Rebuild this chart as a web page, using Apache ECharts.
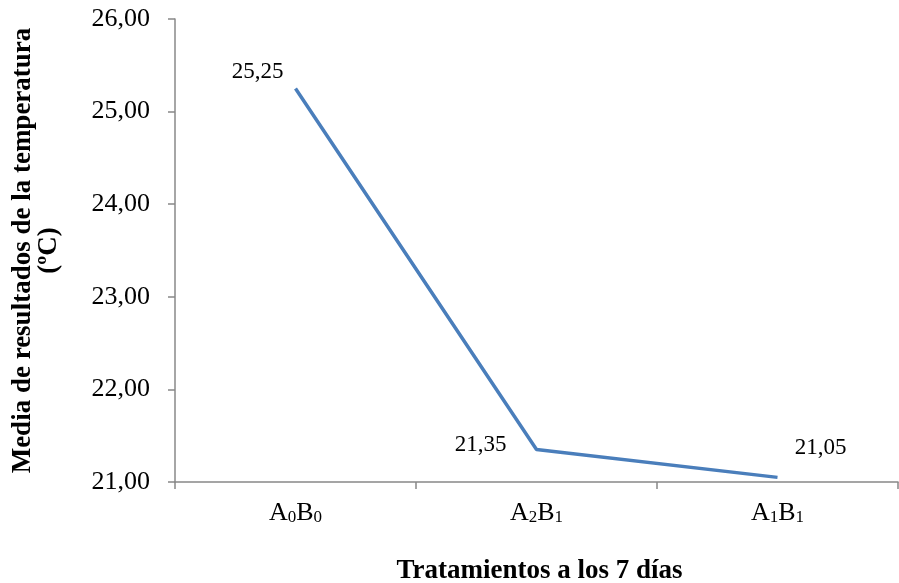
<!DOCTYPE html>
<html><head><meta charset="utf-8">
<script src="https://cdn.jsdelivr.net/npm/echarts@6/dist/echarts.min.js"></script>
<style>html,body{margin:0;padding:0;background:#fff}#c{width:899px;height:583px}</style>
</head><body><div id="c"></div>
<script>
const categories = ['A0B0', 'A2B1', 'A1B1'];
const values = [25.25, 21.35, 21.05];
const labelOffsets = [[-38, -16], [-56, -5], [43, -29]];
const yMin = 21, yMax = 26, yStep = 1;
const xTitle = 'Tratamientos a los 7 días';
const yTitle = 'Media de resultados de la temperatura\n(ºC)';

const serif = "'Liberation Serif','Times New Roman',serif";
const fmt = v => v.toFixed(2).replace('.', ',');
const chart = echarts.init(document.getElementById('c'), null, {renderer: 'canvas'});
chart.setOption({
  animation: false,
  backgroundColor: '#fff',
  grid: {left: 175, right: 1, top: 19, bottom: 101, containLabel: false, outerBoundsMode: 'none'},
  xAxis: {
    type: 'category', data: categories, boundaryGap: true,
    axisLine: {lineStyle: {color: '#888', width: 1.5}},
    axisTick: {show: true, length: 7, lineStyle: {color: '#888', width: 1.5}},
    axisLabel: {
      margin: 12,
      formatter: v => `{m|${v[0]}}{s|${v[1]}}{m|${v[2]}}{s|${v[3]}}`,
      rich: {
        m: {fontFamily: serif, fontSize: 26, color: '#000', verticalAlign: 'bottom', lineHeight: 32},
        s: {fontFamily: serif, fontSize: 17, color: '#000', verticalAlign: 'bottom', lineHeight: 17}
      }
    },
    name: xTitle, nameLocation: 'middle', nameGap: 76,
    nameTextStyle: {fontFamily: serif, fontSize: 27, fontWeight: 'bold', color: '#000', padding: [0, 0, 0, 6]}
  },
  yAxis: {
    type: 'value', min: yMin, max: yMax, interval: yStep,
    axisLine: {show: true, lineStyle: {color: '#888', width: 1.5}},
    axisTick: {show: true, length: 7, lineStyle: {color: '#888', width: 1.5}},
    splitLine: {show: false},
    axisLabel: {formatter: fmt, fontFamily: serif, fontSize: 26, color: '#000', margin: 25},
    name: yTitle, nameLocation: 'middle', nameGap: 113, nameRotate: 90,
    nameTextStyle: {fontFamily: serif, fontSize: 27, fontWeight: 'bold', color: '#000', lineHeight: 26, align: 'center'}
  },
  series: [{
    type: 'line',
    data: values.map((v, i) => ({value: v, label: {offset: labelOffsets[i]}})),
    symbol: 'circle', symbolSize: 1, showSymbol: true,
    itemStyle: {color: 'rgba(0,0,0,0)'},
    lineStyle: {color: '#4A7EBB', width: 3.5},
    label: {show: true, position: 'inside', formatter: p => fmt(p.value), fontFamily: serif, fontSize: 23, color: '#000'}
  }]
});
</script></body></html>
